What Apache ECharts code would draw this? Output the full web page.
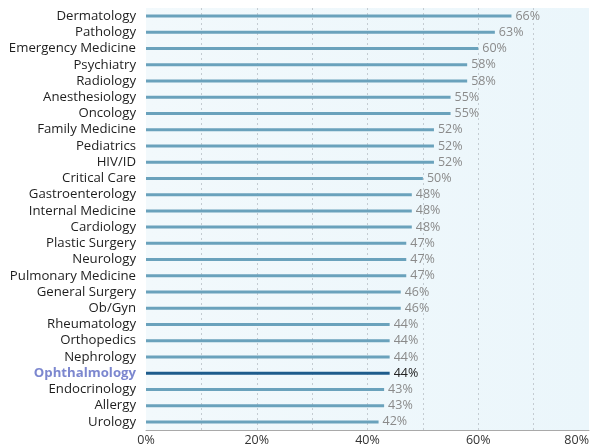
<!DOCTYPE html>
<html>
<head>
<meta charset="utf-8">
<script src="https://cdn.jsdelivr.net/npm/echarts@6/dist/echarts.min.js"></script>
<style>
  html, body { margin: 0; padding: 0; background: #ffffff; }
  #chart { width: 592px; height: 448px; }
</style>
</head>
<body>
<div id="chart"></div>
<script>
// Specialties, listed top to bottom
const specialties = [
  'Dermatology', 'Pathology', 'Emergency Medicine', 'Psychiatry', 'Radiology',
  'Anesthesiology', 'Oncology', 'Family Medicine', 'Pediatrics', 'HIV/ID',
  'Critical Care', 'Gastroenterology', 'Internal Medicine', 'Cardiology',
  'Plastic Surgery', 'Neurology', 'Pulmonary Medicine', 'General Surgery',
  'Ob/Gyn', 'Rheumatology', 'Orthopedics', 'Nephrology', 'Ophthalmology',
  'Endocrinology', 'Allergy', 'Urology'
];
// Percentage per specialty, same order
const percents = [
  66, 63, 60, 58, 58,
  55, 55, 52, 52, 52,
  50, 48, 48, 48,
  47, 47, 47, 46,
  46, 44, 44, 44, 44,
  43, 43, 42
];
const highlighted = 'Ophthalmology';
const xTicks = [0, 20, 40, 60, 80];

// category axis runs bottom-up, so reverse for top-down order
const cats = specialties.slice().reverse();
const vals = percents.slice().reverse();

const FONT = 'Open Sans';

const chart = echarts.init(document.getElementById('chart'), null, { renderer: 'canvas' });

chart.setOption({
  animation: false,
  grid: {
    left: 146, right: 2, top: 8, bottom: 18,
    show: true, borderWidth: 0,
    backgroundColor: new echarts.graphic.LinearGradient(0, 0, 1, 0, [
      { offset: 0, color: '#f2f9fc' },
      { offset: 1, color: '#ebf6fb' }
    ])
  },
  xAxis: {
    type: 'value', min: 0, max: 80, interval: 10,
    axisLine: { show: true, lineStyle: { color: '#a9a9a9', width: 1 } },
    axisTick: { show: false },
    splitLine: { show: true, showMinLine: false, showMaxLine: false,
      lineStyle: { color: '#c4ccd2', type: [2, 3], width: 1 } },
    axisLabel: {
      color: '#333', fontFamily: FONT, fontSize: 12.5, margin: 4,
      alignMaxLabel: 'right',
      formatter: v => xTicks.includes(v) ? v + '%' : ''
    }
  },
  yAxis: {
    type: 'category', data: cats,
    axisLine: { show: false }, axisTick: { show: false },
    axisLabel: {
      interval: 0, margin: 10, fontFamily: FONT, fontSize: 13.2,
      formatter: v => v === highlighted ? '{hl|' + v + '}' : '{n|' + v + '}',
      rich: {
        n: { color: '#1e1e1e', fontFamily: FONT, fontSize: 13.2 },
        hl: { color: '#7c87cf', fontFamily: FONT, fontSize: 13.2, fontWeight: 'bold' }
      }
    }
  },
  series: [{
    type: 'bar',
    barWidth: 3,
    data: vals.map((v, i) => ({
      value: v,
      itemStyle: { color: cats[i] === highlighted ? '#1e5c8c' : '#6aa2bc' },
      label: cats[i] === highlighted ? { color: '#222' } : undefined
    })),
    label: {
      show: true, position: 'right', distance: 4,
      color: '#8a8a8a', fontFamily: FONT, fontSize: 12.5,
      formatter: p => p.value + '%'
    }
  }]
});
</script>
</body>
</html>
